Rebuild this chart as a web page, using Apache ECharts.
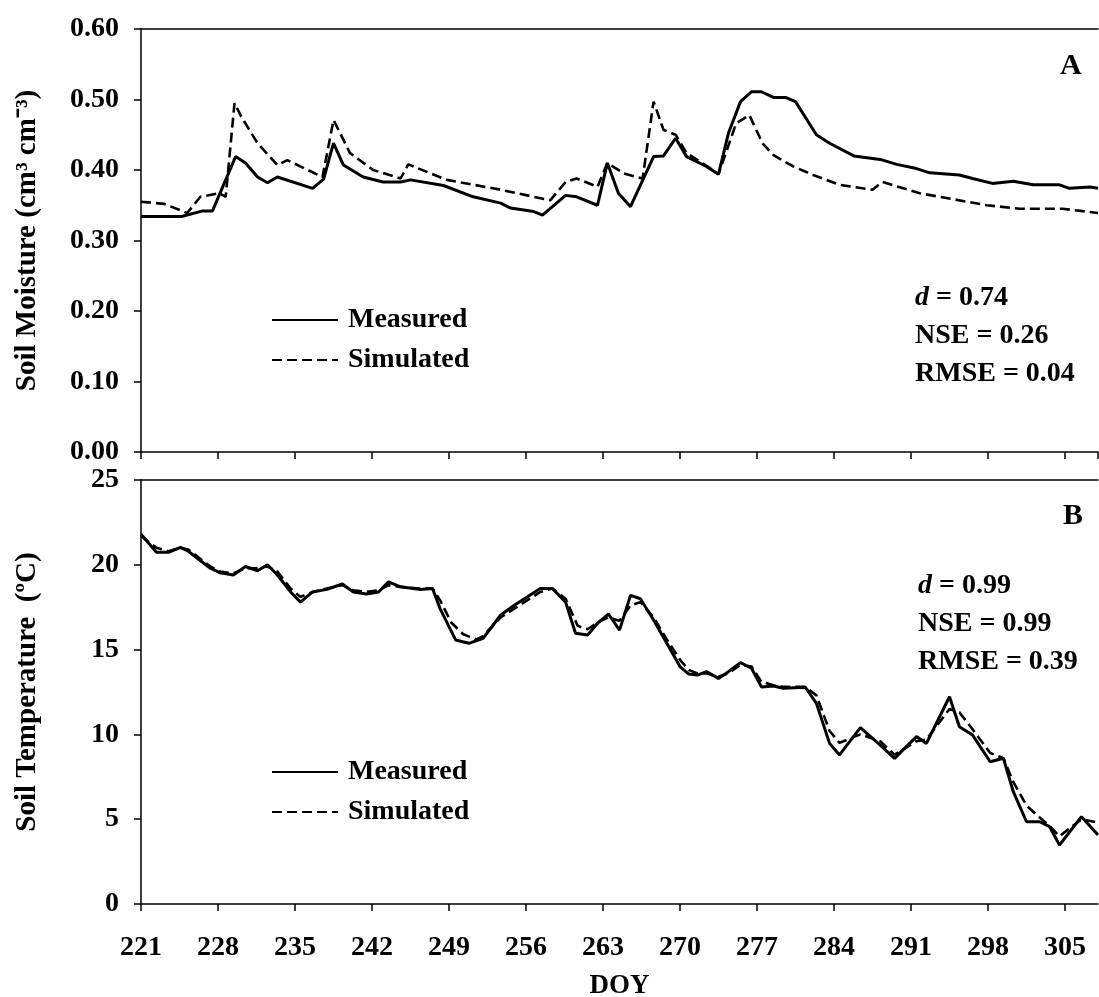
<!DOCTYPE html>
<html>
<head>
<meta charset="utf-8">
<script src="https://cdn.jsdelivr.net/npm/echarts@6/dist/echarts.min.js"></script>
<style>
  html, body { margin: 0; padding: 0; background: #fff; }
  #chart { width: 1099px; height: 997px; }
</style>
</head>
<body>
<div id="chart"></div>
<script>
// panel A: soil moisture (cm3 cm-3)
const moistMeasuredDoy = [221, 224.7, 226.6, 227.5, 229.6, 230.5, 231.6, 232.5, 233.4, 236.6, 237.6, 238.5, 239.4, 241.2, 243.0, 244.6, 245.5, 248.5, 251.2, 253.7, 254.6, 256.7, 257.5, 259.6, 260.6, 262.5, 263.4, 264.4, 265.5, 267.6, 268.5, 269.6, 270.6, 272.4, 273.5, 274.4, 275.5, 276.5, 277.4, 278.5, 279.6, 280.5, 282.4, 283.6, 285.8, 288.2, 289.7, 291.5, 292.7, 295.4, 296.6, 298.4, 300.3, 302.1, 304.5, 305.4, 307.3, 308];
const moistMeasured = [0.334, 0.334, 0.342, 0.342, 0.419, 0.410, 0.390, 0.382, 0.390, 0.374, 0.387, 0.438, 0.407, 0.390, 0.383, 0.383, 0.386, 0.378, 0.362, 0.353, 0.346, 0.341, 0.336, 0.364, 0.362, 0.350, 0.410, 0.367, 0.348, 0.419, 0.420, 0.445, 0.419, 0.405, 0.394, 0.452, 0.497, 0.511, 0.511, 0.503, 0.503, 0.497, 0.450, 0.438, 0.420, 0.415, 0.408, 0.402, 0.396, 0.393, 0.388, 0.381, 0.384, 0.379, 0.379, 0.374, 0.376, 0.374];
const moistSimulatedDoy = [221, 223.1, 225.2, 226.4, 228.1, 228.7, 229.5, 230.1, 231.6, 233.4, 234.3, 237.5, 238.5, 240.0, 242.1, 244.6, 245.3, 248.8, 253.7, 258.2, 259.6, 260.6, 262.5, 263.4, 264.9, 266.6, 267.6, 268.5, 269.6, 270.6, 273.0, 273.5, 275.1, 276.3, 277.5, 278.5, 280.3, 282.1, 284.5, 287.5, 288.4, 291.8, 297.9, 300.9, 304.8, 308];
const moistSimulated = [0.355, 0.352, 0.339, 0.362, 0.367, 0.362, 0.495, 0.476, 0.438, 0.407, 0.414, 0.390, 0.471, 0.424, 0.400, 0.388, 0.408, 0.386, 0.372, 0.357, 0.383, 0.388, 0.376, 0.410, 0.395, 0.388, 0.497, 0.457, 0.450, 0.424, 0.400, 0.394, 0.466, 0.478, 0.438, 0.421, 0.405, 0.393, 0.379, 0.372, 0.383, 0.367, 0.350, 0.345, 0.345, 0.339];

// panel B: soil temperature (°C)
const tempMeasuredDoy = [221, 222.4, 223.5, 224.6, 225.3, 227.3, 228.2, 229.4, 230.5, 231.6, 232.5, 233.4, 234.6, 235.5, 236.6, 237.9, 239.3, 240.3, 241.5, 242.6, 243.5, 244.6, 246.4, 247.5, 248.2, 249.6, 250.8, 252.1, 253.7, 254.9, 256.1, 257.3, 258.4, 259.6, 260.5, 261.6, 262.5, 263.5, 264.5, 265.5, 266.4, 267.6, 268.8, 270, 270.8, 271.6, 272.4, 273.5, 274.4, 275.5, 276.5, 277.4, 278.5, 279.4, 281.4, 282.4, 283.6, 284.5, 286.4, 288.2, 289.5, 291.5, 292.4, 294.5, 295.4, 296.6, 298.2, 299.4, 300.3, 301.5, 302.7, 303.6, 304.5, 306.5, 308];
const tempMeasured = [21.8, 20.74, 20.74, 21.03, 20.8, 19.8, 19.53, 19.4, 19.9, 19.65, 20.0, 19.4, 18.4, 17.8, 18.4, 18.55, 18.87, 18.4, 18.28, 18.4, 19.0, 18.7, 18.55, 18.6, 17.4, 15.57, 15.37, 15.66, 17.04, 17.6, 18.1, 18.6, 18.6, 17.8, 15.96, 15.86, 16.55, 17.1, 16.15, 18.2, 18.0, 16.75, 15.37, 14.0, 13.56, 13.5, 13.7, 13.3, 13.7, 14.23, 13.9, 12.8, 12.85, 12.72, 12.78, 11.83, 9.47, 8.79, 10.4, 9.37, 8.59, 9.87, 9.47, 12.22, 10.45, 9.96, 8.39, 8.59, 6.62, 4.85, 4.85, 4.56, 3.48, 5.15, 4.07];
const tempSimulatedDoy = [221, 222.4, 223.5, 224.6, 225.3, 227.3, 228.2, 229.4, 230.5, 231.6, 232.5, 233.4, 234.6, 235.5, 236.6, 237.9, 239.3, 240.3, 241.5, 242.6, 243.5, 244.6, 246.4, 247.5, 248.2, 249.2, 250.3, 251.5, 252.1, 253.7, 254.9, 256.1, 257.3, 258.4, 259.6, 260.7, 261.6, 262.5, 263.5, 264.5, 265.5, 266.4, 267.6, 268.8, 270, 270.8, 271.6, 272.4, 273.5, 274.4, 275.5, 276.5, 277.4, 278.5, 279.4, 281.4, 282.4, 283.6, 284.5, 286.4, 288.2, 289.5, 291.5, 292.4, 294.5, 295.4, 296.6, 298.2, 299.4, 300.3, 301.5, 302.7, 303.6, 304.5, 306.5, 308];
const tempSimulated = [21.7, 21.0, 20.8, 21.0, 20.9, 19.9, 19.6, 19.5, 19.8, 19.8, 19.9, 19.6, 18.6, 18.1, 18.4, 18.6, 18.8, 18.5, 18.4, 18.5, 18.8, 18.7, 18.6, 18.6, 17.9, 16.6, 15.9, 15.6, 15.8, 16.9, 17.4, 17.9, 18.4, 18.6, 18.0, 16.4, 16.2, 16.6, 16.9, 16.7, 17.6, 17.8, 16.9, 15.6, 14.4, 13.8, 13.6, 13.6, 13.4, 13.6, 14.1, 14.0, 13.1, 12.9, 12.8, 12.8, 12.3, 10.2, 9.5, 10.0, 9.6, 8.8, 9.6, 9.7, 11.5, 11.3, 10.3, 8.9, 8.6, 7.2, 5.8, 5.1, 4.6, 4.0, 5.0, 4.8];

const doyMin = 221, doyMax = 308, doyStep = 7;
const moistTicks = [0, 0.6, 0.1];
const tempTicks = [0, 25, 5];

const FONT = '"Liberation Serif", "Times New Roman", serif';
const zip = (xs, ys) => xs.map((x, i) => [x, ys[i]]);

const chart = echarts.init(document.getElementById('chart'));

const axisText = { color: '#000', fontFamily: FONT, fontWeight: 'bold', fontSize: 28 };
const blackLine = { lineStyle: { color: '#000', width: 1.5 } };

function xAxis(gridIndex, withLabels) {
  return {
    type: 'value', gridIndex, min: doyMin, max: doyMax, interval: doyStep,
    axisLine: { show: true, onZero: false, ...blackLine },
    axisTick: { show: true, length: 7, ...blackLine },
    splitLine: { show: false },
    axisLabel: {
      show: withLabels, margin: 30, showMaxLabel: false, ...axisText,
      formatter: (v) => ((v - doyMin) % doyStep === 0 ? String(v) : ''),
    },
    name: withLabels ? 'DOY' : '', nameLocation: 'middle', nameGap: 69,
    nameTextStyle: { ...axisText, fontSize: 27 },
  };
}

// plain line along the top of each panel (the frame has no right edge in view)
function topFrame(gridIndex) {
  return {
    type: 'value', gridIndex, position: 'top', min: doyMin, max: doyMax,
    axisLine: { show: true, onZero: false, ...blackLine },
    axisTick: { show: false }, axisLabel: { show: false }, splitLine: { show: false },
  };
}

function yAxis(gridIndex, ticks, digits, title) {
  return {
    type: 'value', gridIndex, min: ticks[0], max: ticks[1], interval: ticks[2],
    axisLine: { show: true, ...blackLine },
    axisTick: { show: true, length: 7, ...blackLine },
    splitLine: { show: false },
    axisLabel: { margin: 22, ...axisText, formatter: (v) => v.toFixed(digits) },
    name: title, nameLocation: 'middle', nameRotate: 90, nameGap: 99,
    nameTextStyle: { ...axisText, fontSize: 29 },
  };
}

function lineSeries(name, axisIdx, data, dashed) {
  return {
    name, type: 'line', xAxisIndex: axisIdx * 2, yAxisIndex: axisIdx,
    data, showSymbol: false, symbol: 'none', animation: false,
    itemStyle: { color: '#000' },
    lineStyle: { color: '#000', width: dashed ? 2.6 : 3, type: dashed ? [10, 5] : 'solid' },
  };
}

const legendBase = {
  orient: 'vertical', left: 266, itemWidth: 66, itemHeight: 20, itemGap: 12,
  data: ['Measured', 'Simulated'], selectedMode: false,
  itemStyle: { opacity: 0 },
  textStyle: { ...axisText, fontSize: 28, lineHeight: 26, padding: [0, 0, 0, 5] },
};

const statText = (x, y, lines) => ({
  type: 'text', left: x, top: y, silent: true,
  style: {
    text: lines.join('\n'), lineHeight: 38,
    font: `bold 28px ${FONT}`, fill: '#000',
    rich: {
      i: { fontStyle: 'italic', fontWeight: 'bold', fontSize: 28, fontFamily: FONT, lineHeight: 38 },
      b: { fontWeight: 'bold', fontSize: 28, fontFamily: FONT, lineHeight: 38 },
    },
  },
});

chart.setOption({
  backgroundColor: '#fff',
  grid: [
    { left: 141, top: 29, right: 1, height: 423, outerBoundsMode: 'none' },
    { left: 141, top: 480, right: 1, height: 424, outerBoundsMode: 'none' },
  ],
  xAxis: [xAxis(0, false), topFrame(0), xAxis(1, true), topFrame(1)],
  yAxis: [
    yAxis(0, moistTicks, 2, 'Soil Moisture (cm³ cm⁻³)'),
    yAxis(1, tempTicks, 0, 'Soil Temperature  (ºC)'),
  ],
  legend: [
    { ...legendBase, top: 301 },
    { ...legendBase, top: 753 },
  ],
  graphic: [
    { type: 'text', left: 1060, top: 51, style: { text: 'A', font: `bold 30px ${FONT}`, fill: '#000' } },
    { type: 'text', left: 1063, top: 501, style: { text: 'B', font: `bold 30px ${FONT}`, fill: '#000' } },
    statText(915, 279, ['{i|d}{b| = 0.74}', '{b|NSE = 0.26}', '{b|RMSE = 0.04}']),
    statText(918, 567, ['{i|d}{b| = 0.99}', '{b|NSE = 0.99}', '{b|RMSE = 0.39}']),
  ],
  series: [
    lineSeries('Measured', 0, zip(moistMeasuredDoy, moistMeasured), false),
    lineSeries('Simulated', 0, zip(moistSimulatedDoy, moistSimulated), true),
    lineSeries('Measured', 1, zip(tempMeasuredDoy, tempMeasured), false),
    lineSeries('Simulated', 1, zip(tempSimulatedDoy, tempSimulated), true),
  ],
});
</script>
</body>
</html>
